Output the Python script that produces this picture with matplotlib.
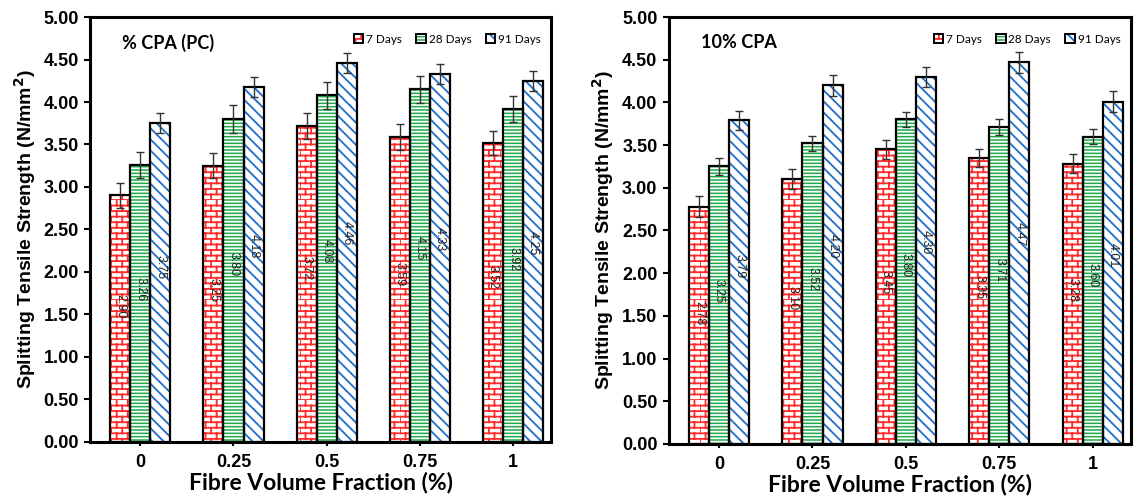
import numpy as np
import matplotlib
matplotlib.use('Agg')
import matplotlib.pyplot as plt
from matplotlib.patches import Patch
from matplotlib.legend_handler import HandlerTuple
from matplotlib import hatch as mhatch
from matplotlib.path import Path

# Data
fractions = ['0', '0.25', '0.5', '0.75', '1']
series = ['7 Days', '28 Days', '91 Days']

pc_7 = [2.90, 3.25, 3.72, 3.59, 3.52]
pc_28 = [3.26, 3.80, 4.08, 4.15, 3.92]
pc_91 = [3.75, 4.18, 4.46, 4.33, 4.25]
pc_err_7 = [0.15, 0.15, 0.15, 0.15, 0.14]
pc_err_28 = [0.15, 0.16, 0.16, 0.16, 0.15]
pc_err_91 = [0.12, 0.12, 0.12, 0.12, 0.12]

cpa_7 = [2.78, 3.10, 3.45, 3.35, 3.28]
cpa_28 = [3.25, 3.52, 3.80, 3.71, 3.60]
cpa_91 = [3.79, 4.20, 4.30, 4.47, 4.01]
cpa_err_7 = [0.12, 0.12, 0.11, 0.11, 0.11]
cpa_err_28 = [0.10, 0.09, 0.09, 0.09, 0.09]
cpa_err_91 = [0.11, 0.12, 0.12, 0.12, 0.12]

RED = '#ff2a2a'
GREEN = '#1faa4a'
BLUE = '#1f6fc8'


class BrickHatch(mhatch.HatchPatternBase):
    # horizontal brick pattern, 'b' in the hatch string
    def __init__(self, hatch, density):
        n = hatch.count('b') * density
        self.rows = n + (n % 2)
        self.cols = self.rows // 2
        self.num_vertices = (self.rows * 2 + self.rows * self.cols * 2) if n else 0

    def set_vertices_and_codes(self, vertices, codes):
        r, c = self.rows, self.cols
        k = 0
        for i in range(r):
            y0 = i / r
            vertices[k] = (0, y0)
            vertices[k + 1] = (1, y0)
            codes[k] = Path.MOVETO
            codes[k + 1] = Path.LINETO
            k += 2
            off = 0.5 * (i % 2)
            for j in range(c):
                xx = (j + off) / c
                vertices[k] = (xx, y0)
                vertices[k + 1] = (xx, (i + 1) / r)
                codes[k] = Path.MOVETO
                codes[k + 1] = Path.LINETO
                k += 2


mhatch._hatch_types.append(BrickHatch)

plt.rcParams['hatch.linewidth'] = 1.3
tick_font = ['Liberation Sans', 'DejaVu Sans']
cal_font = ['Lato', 'DejaVu Sans']

# (face, hatch colour, hatch)
styles = [('white', RED, 'bbb'),
          (GREEN, 'white', '-----'),
          ('white', BLUE, '\\\\\\')]


def draw_panel(ax, vals, errs, title):
    x = np.arange(len(fractions))
    w = 0.215
    for k, (v, e) in enumerate(zip(vals, errs)):
        face, hc, hatch = styles[k]
        pos = x + (k - 1) * w
        ax.bar(pos, v, w, color=face, edgecolor=hc, hatch=hatch, lw=0, zorder=2)
        ax.bar(pos, v, w, fill=False, edgecolor='black', lw=1.6, zorder=3)
        ax.errorbar(pos, v, yerr=e, fmt='none', ecolor='#333333',
                    elinewidth=1.0, capsize=3, capthick=1.0, zorder=4)
        for p, val in zip(pos, v):
            ax.text(p, val * 0.55, f'{val:.2f}', rotation=270, ha='center',
                    va='center', fontsize=9, family=tick_font, color='#222222',
                    zorder=5)

    ax.set_ylim(0, 5)
    ax.set_xlim(-0.54, 4.41)
    ax.set_yticks(np.arange(0, 5.01, 0.5))
    ax.set_yticklabels([f'{t:.2f}' for t in np.arange(0, 5.01, 0.5)])
    ax.set_xticks(x)
    ax.set_xticklabels(fractions)
    for lab in ax.get_xticklabels() + ax.get_yticklabels():
        lab.set_fontfamily(tick_font)
        lab.set_fontweight('bold')
        lab.set_fontsize(13)
    ax.tick_params(axis='y', length=4, width=1.5, pad=4)
    ax.tick_params(axis='x', length=3, width=1.5, pad=6)
    for s in ax.spines.values():
        s.set_linewidth(2.2)

    ax.set_ylabel('Splitting Tensile Strength (N/mm$^\\mathbf{2}$)',
                  family=tick_font, fontweight='bold', fontsize=14)
    ax.set_xlabel('Fibre Volume Fraction (%)', family=cal_font,
                  fontweight='bold', fontsize=16.5, labelpad=0)
    ax.text(0.07, 0.94, title, transform=ax.transAxes, family=cal_font,
            fontweight='bold', fontsize=13, va='center')

    handles = []
    for k, name in enumerate(series):
        face, hc, hatch = styles[k]
        handles.append((Patch(facecolor=face, edgecolor=hc, hatch=hatch, lw=0),
                        Patch(fill=False, edgecolor='black', lw=1.4)))
    ax.legend(handles=handles, labels=series, loc='upper right', ncol=3,
              frameon=False, prop={'family': cal_font, 'size': 8.5},
              handler_map={tuple: HandlerTuple(ndivide=1, pad=0)},
              handlelength=0.8, handleheight=0.8, handletextpad=0.25,
              columnspacing=1.2, bbox_to_anchor=(1.0, 0.985))


fig = plt.figure(figsize=(11.39, 5.01), dpi=100)
ax1 = fig.add_axes([0.079, 0.118, 0.405, 0.848])
ax2 = fig.add_axes([0.587, 0.114, 0.406, 0.852])

draw_panel(ax1, [pc_7, pc_28, pc_91], [pc_err_7, pc_err_28, pc_err_91], '% CPA (PC)')
draw_panel(ax2, [cpa_7, cpa_28, cpa_91], [cpa_err_7, cpa_err_28, cpa_err_91], '10% CPA')

fig.savefig('out.png', dpi=100)
